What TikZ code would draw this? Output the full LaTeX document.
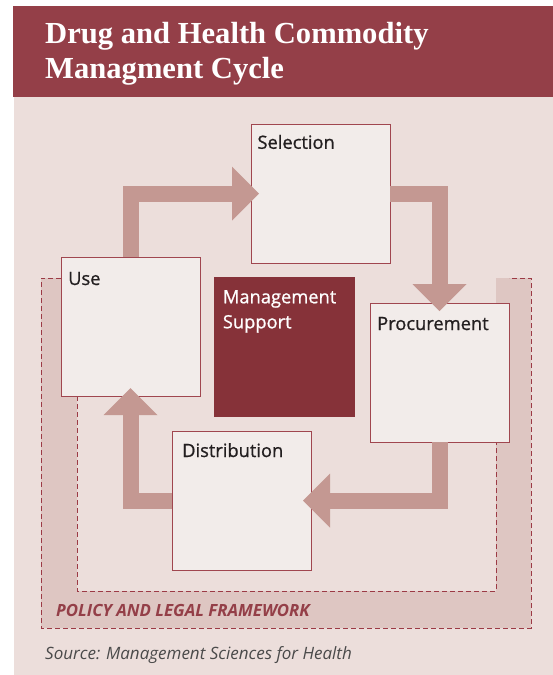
\documentclass[tikz,border=0pt]{standalone}
\usepackage{fontspec}
\setmainfont{Open Sans}
\newfontfamily\titlefont{Liberation Serif}
\newfontfamily\labelfont[FakeBold=0.9]{Open Sans}
\usetikzlibrary{arrows.meta,calc}
\definecolor{titlered}{HTML}{943F48}
\definecolor{panel}{HTML}{ECDEDB}
\definecolor{band}{HTML}{DEC6C2}
\definecolor{boxfill}{HTML}{F2ECEA}
\definecolor{boxline}{HTML}{A0464F}
\definecolor{mgmtc}{HTML}{863239}
\definecolor{arrowc}{HTML}{C49892}
\definecolor{dashc}{HTML}{9C3A45}
\definecolor{txt}{HTML}{231F20}
\definecolor{srcgray}{HTML}{4A4A4A}
\begin{document}
\begin{tikzpicture}[x=1pt,y=-1pt,
 box/.style={draw=boxline, fill=boxfill, line width=1pt, inner sep=0pt, outer sep=0pt, minimum width=139pt, minimum height=139pt, anchor=north west},
 lbl/.style={anchor=base west, inner sep=0pt, text=txt, font=\labelfont\fontsize{18.3}{22}\selectfont},
 flow/.style={draw=arrowc, line width=16pt, line join=miter, -{Triangle[length=27pt,width=54pt,line width=0pt]}, shorten >=-8pt},
 frame/.style={draw=dashc, line width=1pt, dash pattern=on 5pt off 3pt},
 titletext/.style={anchor=base west, inner sep=0pt, text=white, font=\titlefont\bfseries\fontsize{30.6}{35}\selectfont}]
\useasboundingbox (0,0) rectangle (553,675);
\fill[white] (0,0) rectangle (553,675);
\fill[panel] (14,97) rectangle (553,675);
\fill[titlered] (13,6) rectangle (553,97);
\node[titletext] (t1) at (45,43.3) {Drug and Health Commodity};
\node[titletext] (t2) at (45,78.3) {Managment Cycle};
% policy band
\fill[band] (41,278) -- (77,278) -- (77,591) -- (496,591) -- (496,278) -- (531,278) -- (531,628) -- (41,628) -- cycle;
\draw[frame] (61,278) -- (41,278) -- (41,628) -- (531,628) -- (531,278) -- (509,278);
\draw[frame] (77,396) -- (77,591) -- (496,591) -- (496,442);
% boxes
\node[box] (sel) at (251,124) {};
\node[box] (use) at (61,257) {};
\node[box, fill=mgmtc, draw=none, minimum width=141pt, minimum height=140pt] (mgmt) at (214,277) {};
\node[box] (proc) at (370,303) {};
\node[box] (dist) at (172,431) {};
% labels
\node[lbl] (selT) at ($(sel.north west)+(6.3,24.8)$) {Selection};
\node[lbl] (useT) at ($(use.north west)+(7,28)$) {Use};
\node[lbl] (procT) at ($(proc.north west)+(7,27)$) {Procurement};
\node[lbl] (distT) at ($(dist.north west)+(10,26)$) {Distribution};
\node[lbl, text=white] (mgmtT1) at ($(mgmt.north west)+(8.7,26.3)$) {Management};
\node[lbl, text=white] (mgmtT2) at ($(mgmt.north west)+(8.7,51.3)$) {Support};
% cycle arrows
\draw[flow] (use.north) |- (sel.west);
\draw[flow] (sel.east) -| (proc.north);
\draw[flow] (proc.south) |- (dist.east);
\draw[flow] (dist.west) -| (use.south);
% texts
\node[anchor=base west, inner sep=0pt, text=titlered, font=\bfseries\itshape\fontsize{16.8}{19}\selectfont] (pol) at (56,616.7) {POLICY AND LEGAL FRAMEWORK};
\node[anchor=base west, inner sep=0pt, text=srcgray, font=\itshape\fontsize{17}{20}\selectfont] (src) at (45,659.3) {Source: Management Sciences for Health};
\end{tikzpicture}
\end{document}
